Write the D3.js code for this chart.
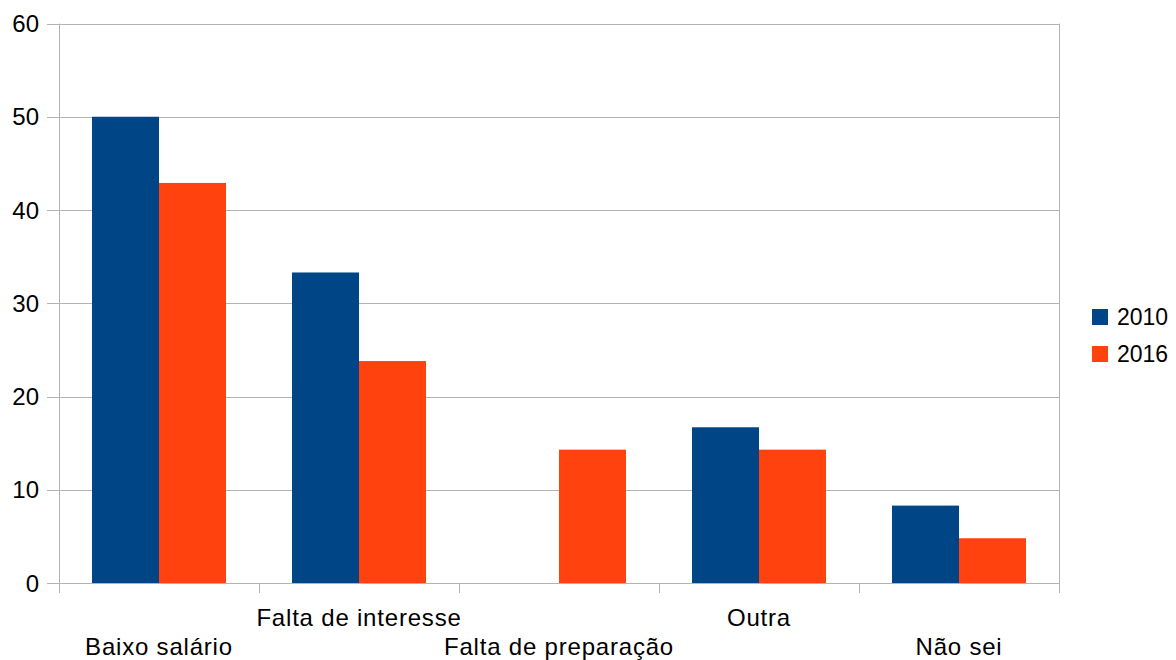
<!DOCTYPE html>
<html>
<head>
<meta charset="utf-8">
<script src="https://cdn.jsdelivr.net/npm/d3@7"></script>
<style>
  html, body { margin: 0; padding: 0; background: #fff; }
  text { font-family: "Liberation Sans", Arial, sans-serif; fill: #000; }
</style>
</head>
<body>
<svg id="chart" width="1176" height="660"></svg>
<script>
const categories = ["Baixo salário", "Falta de interesse", "Falta de preparação", "Outra", "Não sei"];
const seriesNames = ["2010", "2016"];
const values2010 = [50, 33.3, 0, 16.7, 8.3];
const values2016 = [42.9, 23.8, 14.3, 14.3, 4.8];
const yTicks = [0, 10, 20, 30, 40, 50, 60];
const colors = ["#004586", "#ff420e"];

const svg = d3.select("#chart");
const plotLeft = 59, plotRight = 1059, plotTop = 23.5, plotBottom = 583;

const x = d3.scaleBand().domain(categories).range([plotLeft, plotRight]).padding(0);
const xs = d3.scaleBand().domain(seriesNames).range([0, x.bandwidth()]).paddingInner(0).paddingOuter(0.4925);
const y = d3.scaleLinear().domain([0, 60]).range([plotBottom, plotTop]);

const grid = "#b3b3b3";

// horizontal gridlines
svg.append("g").selectAll("line").data(yTicks).join("line")
  .attr("x1", plotLeft - 12).attr("x2", plotRight)
  .attr("y1", d => Math.round(y(d)) + 0.5).attr("y2", d => Math.round(y(d)) + 0.5)
  .attr("stroke", grid).attr("stroke-width", 1);

// vertical axis line
svg.append("line").attr("x1", plotLeft + 0.5).attr("x2", plotLeft + 0.5)
  .attr("y1", plotTop).attr("y2", plotBottom + 10).attr("stroke", grid);
// category boundary ticks and right border
const boundaries = categories.map(c => x(c)).concat([plotRight]);
svg.append("g").selectAll("line").data(boundaries).join("line")
  .attr("x1", d => Math.round(d) + 0.5).attr("x2", d => Math.round(d) + 0.5)
  .attr("y1", d => (d === plotRight ? plotTop : plotBottom)).attr("y2", plotBottom + 10)
  .attr("stroke", grid);

// bars
const series = [values2010, values2016];
series.forEach((vals, si) => {
  svg.append("g").selectAll("rect").data(categories).join("rect")
    .attr("x", (c) => x(c) + xs(seriesNames[si]))
    .attr("width", xs.bandwidth())
    .attr("y", (c, i) => y(vals[i]))
    .attr("height", (c, i) => y(0) - y(vals[i]))
    .attr("fill", colors[si]);
});

// y tick labels
svg.append("g").selectAll("text").data(yTicks).join("text")
  .attr("x", 39).attr("y", d => y(d) + 8.5)
  .attr("text-anchor", "end").attr("font-size", 24)
  .text(d => d);

// category labels (staggered)
svg.append("g").selectAll("text").data(categories).join("text")
  .attr("x", c => x(c) + x.bandwidth() / 2)
  .attr("y", (c, i) => i % 2 === 0 ? 655 : 626)
  .attr("text-anchor", "middle").attr("font-size", 24)
  .attr("letter-spacing", "0.8px")
  .text(c => c);

// legend
const lg = svg.append("g");
seriesNames.forEach((s, i) => {
  lg.append("rect").attr("x", 1092).attr("y", 309 + i * 37).attr("width", 16).attr("height", 16).attr("fill", colors[i]);
  lg.append("text").attr("x", 1117).attr("y", 325 + i * 37).attr("font-size", 23).text(s);
});
</script>
</body>
</html>
